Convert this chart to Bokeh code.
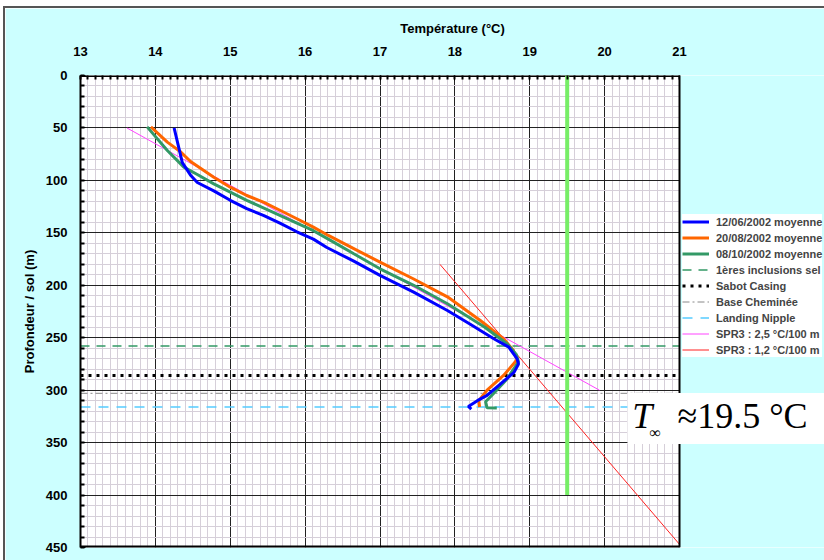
from bokeh.plotting import figure
from bokeh.models import (Range1d, Legend, LegendItem, Label, FixedTicker,
                          BoxAnnotation, Span)
from bokeh.embed import file_html
from bokeh.resources import INLINE

# ---------------- data ----------------
x_ticks = [13, 14, 15, 16, 17, 18, 19, 20, 21]
y_ticks = [0, 50, 100, 150, 200, 250, 300, 350, 400, 450]
x_minor = [round(13 + i / 10, 1) for i in range(81)]
y_minor = list(range(0, 451, 10))

# 12/06/2002 moyenne (blue)
blue_T = [14.25, 14.30, 14.36, 14.47, 14.56, 14.78, 15.00, 15.22, 15.45, 15.67, 15.89, 16.11,
          16.29, 16.65, 17.00, 17.45, 17.90, 18.20, 18.52, 18.72, 18.83, 18.85, 18.79, 18.61,
          18.43, 18.30, 18.18, 18.22]
blue_d = [50, 65, 83, 95, 102, 110, 119, 127, 133.5, 141, 149, 156,
          164, 177, 190.6, 206.5, 224, 237, 251, 259, 270, 275, 283, 294,
          305, 310, 315.5, 318]

# 20/08/2002 moyenne (orange)
orange_T = [13.94, 14.16, 14.34, 14.47, 14.78, 15.00, 15.22, 15.45, 15.67, 15.89, 16.11, 16.31,
            16.65, 17.00, 17.45, 17.90, 18.34, 18.65, 18.78, 18.83, 18.65, 18.43, 18.32, 18.33]
orange_d = [49, 63.5, 73, 82, 97, 106.5, 114.4, 121, 128.7, 136.6, 144.6, 152.5,
            165, 178, 194, 211, 233.6, 251, 262, 271, 286, 300, 310, 316]

# 08/10/2002 moyenne (green)
green_T = [13.89, 14.16, 14.38, 14.56, 14.78, 15.22, 15.67, 16.11, 16.31, 16.65, 17.00, 17.45,
           17.90, 18.40, 18.70, 18.82, 18.85, 18.70, 18.52, 18.41, 18.43, 18.56]
green_d = [49, 71.5, 87.4, 94.4, 103.3, 119, 133.5, 148, 156, 170, 184.3, 200,
           217.6, 240, 256, 266, 273, 289, 303, 311, 316.8, 317]

# reference depths (m)
inclusions_depth = 258
sabot_depth = 286
cheminee_depth = 303
nipple_depth = 316
span_T = [13, 21]

# SPR3 gradients
spr_25_T = [13.62, 19.93]
spr_25_d = [50, 300]
spr_12_T = [17.80, 21.00]
spr_12_d = [180, 447]

# T infinity
t_inf = 19.5
t_inf_d = [0, 400]

FONT = "Liberation Sans"
SERIF = "Liberation Serif"
BG = "#ccffff"
PX_PER_DEG = 599 / 8.0
FRAME_W = 744

p = figure(frame_width=FRAME_W, frame_height=472,
           x_range=Range1d(13, 13 + FRAME_W / PX_PER_DEG), y_range=Range1d(450, 0),
           x_axis_location="above",
           output_backend="svg", toolbar_location=None,
           min_border_left=75, min_border_right=0, min_border_top=67, min_border_bottom=13,
           border_fill_color=BG, background_fill_color="white",
           outline_line_color=None)
p.margin = (6, 0, 0, 3)
p.styles = {"border-top": "2px solid #555555", "border-left": "2px solid #555555"}

p.xaxis.ticker = FixedTicker(ticks=x_ticks, minor_ticks=x_minor)
p.yaxis.ticker = FixedTicker(ticks=y_ticks, minor_ticks=y_minor)
p.xgrid.ticker = FixedTicker(ticks=x_ticks, minor_ticks=x_minor)
p.ygrid.ticker = FixedTicker(ticks=y_ticks, minor_ticks=y_minor)

for g in (p.xgrid, p.ygrid):
    g.grid_line_color = "#222222"
    g.grid_line_width = 1
    g.minor_grid_line_color = "#d6cfd9"
    g.minor_grid_line_width = 1

for ax in (p.xaxis, p.yaxis):
    ax.axis_line_color = "black"
    ax.axis_line_width = 2
    ax.major_tick_in = 5
    ax.major_tick_out = 0
    ax.minor_tick_in = 4
    ax.minor_tick_out = 0
    ax.major_tick_line_color = "black"
    ax.minor_tick_line_color = "black"
    ax.minor_tick_line_width = 2
    ax.major_label_text_font = FONT
    ax.major_label_text_font_style = "bold"
    ax.major_label_text_font_size = "13px"
    ax.major_label_text_color = "black"
    ax.axis_label_text_font = FONT
    ax.axis_label_text_font_style = "bold"
    ax.axis_label_text_font_size = "13px"
    ax.axis_label_text_color = "black"

p.xaxis.axis_line_color = None
p.xaxis.axis_label = "Température (°C)"
p.xaxis.major_label_standoff = 20
p.xaxis.axis_label_standoff = 8
p.yaxis.axis_label = "Profondeur / sol (m)"
p.yaxis.major_label_standoff = 13
p.yaxis.axis_label_standoff = 6

# plot border (top / bottom)
p.line(span_T, [0, 0], line_color="black", line_width=3)
p.line(span_T, [450, 450], line_color="black", line_width=4)

# reference horizontal lines
r_incl = p.line(span_T, [inclusions_depth] * 2, line_color="#339966", line_width=1.5, line_dash="9 7")
r_sabot = p.line(span_T, [sabot_depth] * 2, line_color="black", line_width=3, line_dash="3 5")
r_chem = p.line(span_T, [cheminee_depth] * 2, line_color="#888888", line_width=1, line_dash="7 3 2 3")
r_nip = p.line(span_T, [nipple_depth] * 2, line_color="#55ccff", line_width=1.5, line_dash="10 8")

# gradients
r_spr25 = p.line(spr_25_T, spr_25_d, line_color="#ff44ff", line_width=1)
r_spr12 = p.line(spr_12_T, spr_12_d, line_color="#ff2020", line_width=1)

# T infinity vertical line
p.line([t_inf, t_inf], t_inf_d, line_color="#77ee66", line_width=4)

# measured profiles
r_orange = p.line(orange_T, orange_d, line_color="#ff6600", line_width=3)
r_green = p.line(green_T, green_d, line_color="#339966", line_width=3)
r_blue = p.line(blue_T, blue_d, line_color="#0000ff", line_width=3)

# cyan area right of the plot
p.add_layout(BoxAnnotation(left=21, fill_color=BG, fill_alpha=1, line_color=None))
p.add_layout(Span(location=21, dimension="height", line_color="black", line_width=2))

legend = Legend(items=[
    LegendItem(label="12/06/2002 moyenne", renderers=[r_blue]),
    LegendItem(label="20/08/2002 moyenne", renderers=[r_orange]),
    LegendItem(label="08/10/2002 moyenne", renderers=[r_green]),
    LegendItem(label="1ères inclusions sel", renderers=[r_incl]),
    LegendItem(label="Sabot Casing", renderers=[r_sabot]),
    LegendItem(label="Base Cheminée", renderers=[r_chem]),
    LegendItem(label="Landing Nipple", renderers=[r_nip]),
    LegendItem(label="SPR3 : 2,5 °C/100 m", renderers=[r_spr25]),
    LegendItem(label="SPR3 : 1,2 °C/100 m", renderers=[r_spr12]),
], location=(602, 190))
legend.label_text_font = FONT
legend.label_text_font_style = "bold"
legend.label_text_font_size = "11px"
legend.glyph_width = 27
legend.glyph_height = 15
legend.label_height = 15
legend.spacing = 1
legend.padding = 3
legend.margin = 0
legend.label_standoff = 7
legend.border_line_color = None
legend.background_fill_color = "white"
legend.background_fill_alpha = 1
p.add_layout(legend)

# annotation T_inf ~ 19.5 C  (white box anchored at its left edge)
box = Label(x=20.305, y=327, text="≈19.5 °C", text_font=SERIF,
            text_font_size="36px", text_color="black", text_baseline="alphabetic",
            background_fill_color="white", background_fill_alpha=1,
            padding=dict(left=50, right=40, top=3, bottom=8))
p.add_layout(box)
p.add_layout(Label(x=20.37, y=325, text="T", text_font=SERIF,
                   text_font_style="italic", text_font_size="36px", text_color="black",
                   text_baseline="alphabetic"))
p.add_layout(Label(x=20.6, y=340, text="∞", text_font=SERIF,
                   text_font_size="16px", text_color="black", text_baseline="alphabetic"))

open("out.html", "w").write(file_html(p, INLINE))
